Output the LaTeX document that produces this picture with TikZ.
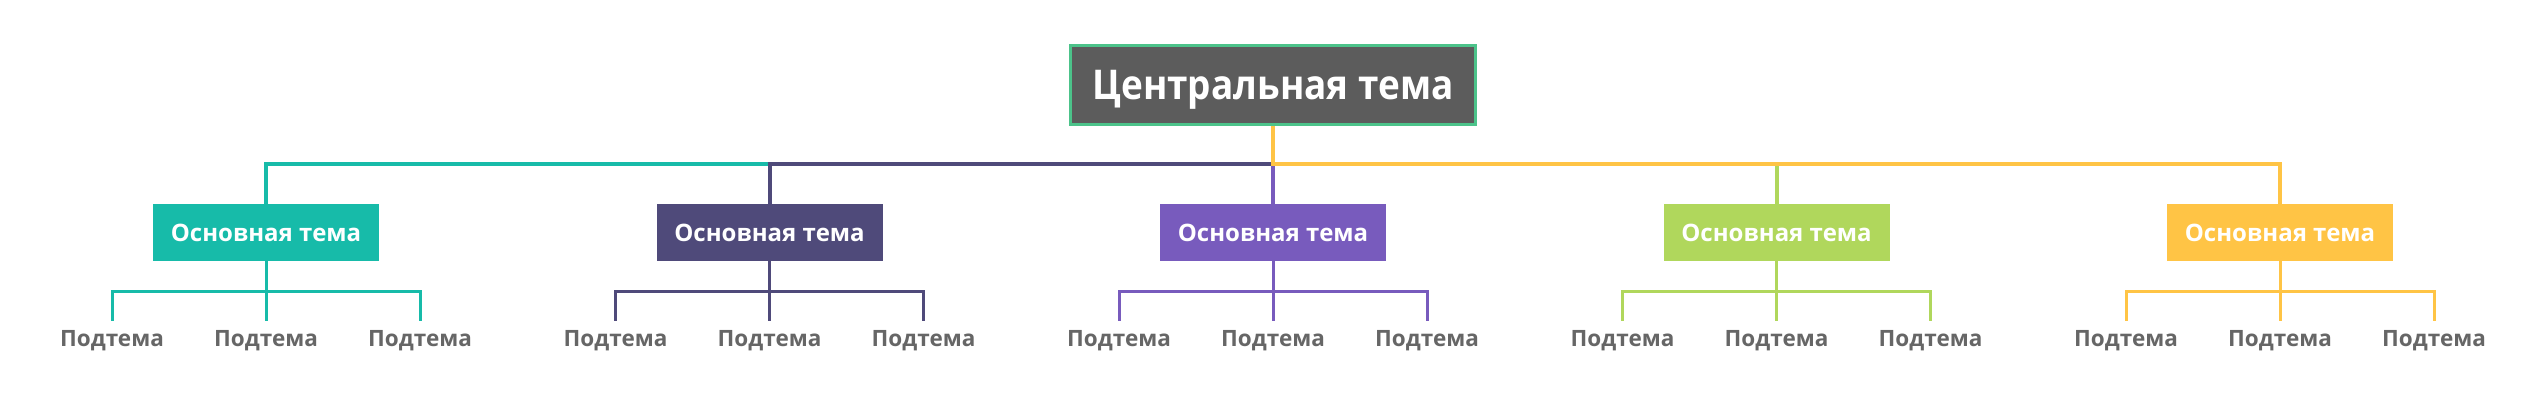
\documentclass[tikz,border=0pt]{standalone}
\usepackage{fontspec}
\setmainfont{Open Sans}
\definecolor{cteal}{HTML}{17BBA9}
\definecolor{cnavy}{HTML}{4F4A7A}
\definecolor{cpurple}{HTML}{785BBD}
\definecolor{cgreen}{HTML}{B0D75C}
\definecolor{cyellow}{HTML}{FFC445}
\definecolor{cgray}{HTML}{5C5C5C}
\definecolor{cborder}{HTML}{4CC38A}
\definecolor{csub}{HTML}{666666}
\tikzset{
  centralbox/.style={rectangle, fill=cgray, draw=cborder, line width=3pt,
    minimum width=405pt, minimum height=79pt, inner sep=0pt,
    text=white, font=\bfseries\fontsize{41}{41}\selectfont\addfontfeature{FakeStretch=0.9},
    text height=29.5pt, text depth=0pt},
  mainbox/.style={rectangle, fill=#1, minimum width=226pt, minimum height=57pt,
    inner sep=0pt, text=white, font=\bfseries\fontsize{24}{24}\selectfont,
    text height=17pt, text depth=0pt},
  subtext/.style={inner xsep=0pt, inner ysep=0pt, text=csub,
    font=\bfseries\fontsize{22.5}{22.5}\selectfont, text height=25pt, text depth=0pt},
  mainline/.style={draw=#1, line width=4pt},
  subline/.style={draw=#1, line width=3pt},
}
\begin{document}
\begin{tikzpicture}[x=1pt,y=-1pt]
\useasboundingbox[fill=white] (0,0) rectangle (2547,414);
\node[centralbox] (c) at (1273,85) {Центральная тема};
\foreach \i/\cx/\col in {1/266/cteal,2/769.5/cnavy,3/1273/cpurple,4/1776.5/cgreen,5/2280/cyellow}{
  \node[mainbox=\col] (m\i) at (\cx,232.5) {Основная тема};
  \node[subtext, anchor=north] (s\i a) at (\cx-154,321) {Подтема};
  \node[subtext, anchor=north] (s\i b) at (\cx,321) {Подтема};
  \node[subtext, anchor=north] (s\i c) at (\cx+154,321) {Подтема};
  \draw[mainline=\col] (c.south) -- ++(0,38) -| (m\i.north);
  \draw[subline=\col] (m\i.south) -- ++(0,30) -| (s\i a.north);
  \draw[subline=\col] (m\i.south) -- (s\i b.north);
  \draw[subline=\col] (m\i.south) -- ++(0,30) -| (s\i c.north);
}
\end{tikzpicture}
\end{document}
